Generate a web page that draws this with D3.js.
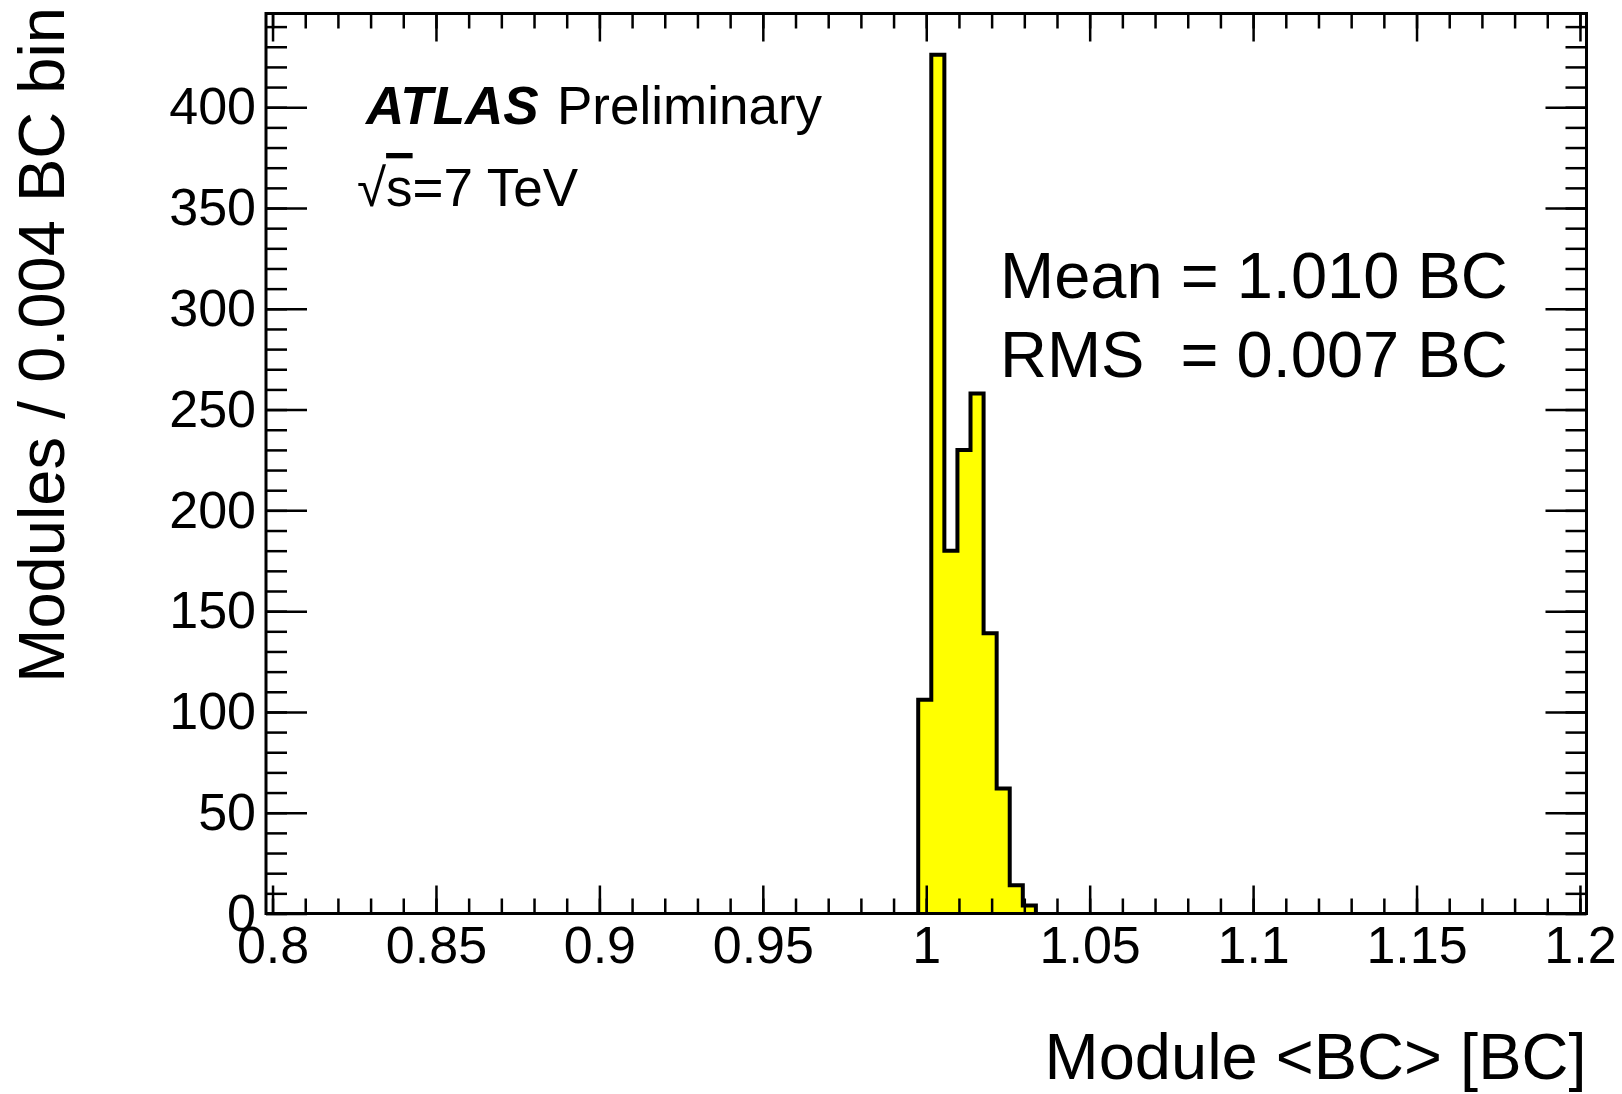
<!DOCTYPE html>
<html>
<head>
<meta charset="utf-8">
<script src="https://cdn.jsdelivr.net/npm/d3@7.9.0/dist/d3.min.js"></script>
<style>
  body { margin: 0; background: #fff; }
  svg text { font-family: "Liberation Sans", Arial, Helvetica, sans-serif; fill: #000; }
</style>
</head>
<body>
<svg id="plot" width="1622" height="1094"></svg>
<script>
// histogram contents, bins of 0.004 BC
const binEdges = [0.998, 1.002, 1.006, 1.010, 1.014, 1.018, 1.022, 1.026, 1.030, 1.034];
const counts = [106, 426, 180, 230, 258, 139, 62, 14, 4];

const xRange = [0.798, 1.202];
const yMax = 446.5;
const xMajor = [0.8, 0.85, 0.9, 0.95, 1.0, 1.05, 1.1, 1.15, 1.2];
const xTickLabels = ['0.8', '0.85', '0.9', '0.95', '1', '1.05', '1.1', '1.15', '1.2'];
const yMajor = [0, 50, 100, 150, 200, 250, 300, 350, 400];
const yTickLabels = ['0', '50', '100', '150', '200', '250', '300', '350', '400'];

const frame = { left: 266, right: 1586.5, top: 13.5, bottom: 913.5 };

const svg = d3.select('#plot');

let x = d3.scaleLinear().domain(xRange).range([frame.left, frame.right]);
let y = d3.scaleLinear().domain([0, yMax]).range([frame.bottom, frame.top]);

// minor ticks every 0.01 and every 10 entries
let xMinor = d3.range(0, 41).map((i) => +(0.8 + i * 0.01).toFixed(2));
let yMinor = d3.range(0, 45).map((i) => i * 10);

// histogram outline
let pts = [[binEdges[0], 0]];
counts.forEach((c, i) => {
  pts.push([binEdges[i], c]);
  pts.push([binEdges[i + 1], c]);
});
pts.push([binEdges[binEdges.length - 1], 0]);

let line = d3.line().x((d) => x(d[0]) - 1.5).y((d) => y(d[1]));

svg.append('path')
   .attr('d', line(pts))
   .attr('fill', '#ffff00')
   .attr('stroke', '#000')
   .attr('stroke-width', 4)
   .attr('stroke-linejoin', 'miter');

// axes (ticks pointing inwards)
function styleAxis(g) {
  g.select('.domain').remove();
  g.selectAll('.tick line').attr('stroke', '#000').attr('stroke-width', 2.5);
  g.selectAll('text').attr('font-size', 52).attr('fill', '#000');
}

let axBottom = svg.append('g').attr('transform', `translate(0,${frame.bottom})`);
axBottom.call(d3.axisBottom(x).tickValues(xMinor).tickSize(-15).tickFormat(''));
axBottom.call(styleAxis);
let axBottomMajor = svg.append('g').attr('transform', `translate(0,${frame.bottom})`);
axBottomMajor.call(d3.axisBottom(x).tickValues(xMajor).tickSize(-28).tickPadding(13)
  .tickFormat((d, i) => xTickLabels[i]));
axBottomMajor.call(styleAxis);

let axTop = svg.append('g').attr('transform', `translate(0,${frame.top})`);
axTop.call(d3.axisTop(x).tickValues(xMinor).tickSize(-15).tickFormat(''));
axTop.call(styleAxis);
let axTopMajor = svg.append('g').attr('transform', `translate(0,${frame.top})`);
axTopMajor.call(d3.axisTop(x).tickValues(xMajor).tickSize(-28).tickFormat(''));
axTopMajor.call(styleAxis);

let axLeft = svg.append('g').attr('transform', `translate(${frame.left},0)`);
axLeft.call(d3.axisLeft(y).tickValues(yMinor).tickSize(-21).tickFormat(''));
axLeft.call(styleAxis);
let axLeftMajor = svg.append('g').attr('transform', `translate(${frame.left},0)`);
axLeftMajor.call(d3.axisLeft(y).tickValues(yMajor).tickSize(-41).tickPadding(10)
  .tickFormat((d, i) => yTickLabels[i]));
axLeftMajor.call(styleAxis);

let axRight = svg.append('g').attr('transform', `translate(${frame.right},0)`);
axRight.call(d3.axisRight(y).tickValues(yMinor).tickSize(-21).tickFormat(''));
axRight.call(styleAxis);
let axRightMajor = svg.append('g').attr('transform', `translate(${frame.right},0)`);
axRightMajor.call(d3.axisRight(y).tickValues(yMajor).tickSize(-41).tickFormat(''));
axRightMajor.call(styleAxis);

// frame
svg.append('rect')
   .attr('x', frame.left)
   .attr('y', frame.top)
   .attr('width', frame.right - frame.left)
   .attr('height', frame.bottom - frame.top)
   .attr('fill', 'none')
   .attr('stroke', '#000')
   .attr('stroke-width', 3);

// axis titles
svg.append('text')
   .attr('x', frame.right)
   .attr('y', 1079)
   .attr('text-anchor', 'end')
   .attr('font-size', 65)
   .text('Module <BC> [BC]');

svg.append('text')
   .attr('transform', 'translate(64,7) rotate(-90)')
   .attr('text-anchor', 'end')
   .attr('font-size', 65)
   .text('Modules / 0.004 BC bin');

// labels
svg.append('text')
   .attr('x', 366).attr('y', 123.5)
   .attr('font-size', 53)
   .attr('font-weight', 'bold')
   .attr('font-style', 'italic')
   .text('ATLAS');
svg.append('text')
   .attr('x', 557).attr('y', 123.5)
   .attr('font-size', 53)
   .text('Preliminary');

let sq = svg.append('text')
   .attr('x', 357).attr('y', 206)
   .attr('font-size', 53);
sq.append('tspan').text('\u221A');
sq.append('tspan').attr('text-decoration', 'overline').text('s');
sq.append('tspan').text('=7 TeV');

svg.append('text')
   .attr('x', 1000).attr('y', 298)
   .attr('font-size', 65)
   .attr('xml:space', 'preserve')
   .style('white-space', 'pre')
   .text('Mean = 1.010 BC');
svg.append('text')
   .attr('x', 1000).attr('y', 377)
   .attr('font-size', 65)
   .attr('xml:space', 'preserve')
   .style('white-space', 'pre')
   .text('RMS  = 0.007 BC');
</script>
</body>
</html>
